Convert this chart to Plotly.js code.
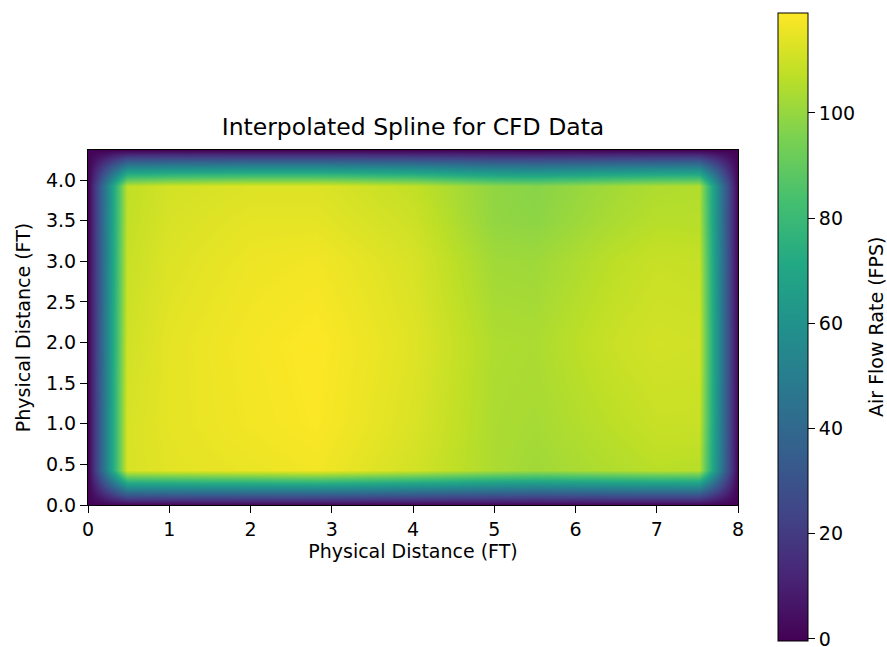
<!DOCTYPE html>
<html>
<head>
<meta charset="utf-8">
<script src="https://cdn.plot.ly/plotly-3.0.1.min.js"></script>
<style>html,body{margin:0;padding:0;background:#fff;}#chart{width:887px;height:647px;}</style>
</head>
<body>
<div id="chart"></div>
<script>
// grid node positions (FT)
const xNodes = [0, 0.25, 0.48, 1, 2, 2.8, 4, 5, 5.5, 6.5, 7, 7.52, 7.75, 8];
const yNodes = [0, 0.22, 0.43, 1, 2, 3, 3.5, 3.93, 4.15, 4.37];
// air flow rate (FPS) read at each node, one row per y node
const row_y000 = [0, 0, 0, 0, 0, 0, 0, 0, 0, 0, 0, 0, 0, 0];
const row_y022 = [0, 30.3, 58.2, 59.3, 60.1, 60.8, 57.7, 54.1, 53.0, 54.6, 55.4, 55.1, 28.7, 0];
const row_y043 = [0, 58.2, 112, 114, 115.5, 117, 111, 104, 102, 105, 106.5, 106, 55.1, 0];
const row_y100 = [0, 58.2, 112, 114.5, 117, 118.5, 112.5, 104, 103, 107, 109, 109, 56.7, 0];
const row_y200 = [0, 57.5, 110.5, 114.5, 117.5, 119, 113.5, 104.5, 104, 109.5, 111, 110.5, 57.5, 0];
const row_y300 = [0, 56.7, 109, 113, 116, 117, 112, 102, 101.5, 107, 109, 108.5, 56.4, 0];
const row_y350 = [0, 56.2, 108, 112, 114.5, 114.5, 110, 99.5, 98.5, 104, 106, 106, 55.1, 0];
const row_y393 = [0, 55.9, 107.5, 111, 113, 113, 108, 99, 97.5, 102.5, 104.5, 105, 54.6, 0];
const row_y415 = [0, 29.1, 55.9, 57.7, 58.8, 58.8, 56.2, 51.5, 50.7, 53.3, 54.3, 54.6, 28.4, 0];
const row_y437 = [0, 0, 0, 0, 0, 0, 0, 0, 0, 0, 0, 0, 0, 0];
const xTicks = [0, 1, 2, 3, 4, 5, 6, 7, 8];
const yTicks = [0, 0.5, 1, 1.5, 2, 2.5, 3, 3.5, 4];
const cbTicks = [0, 20, 40, 60, 80, 100];

const z = [row_y000, row_y022, row_y043, row_y100, row_y200, row_y300, row_y350, row_y393, row_y415, row_y437];

const viridis = [
  [0.0, '#440154'], [0.1, '#482475'], [0.2, '#414487'], [0.3, '#355f8d'],
  [0.4, '#2a788e'], [0.5, '#21918c'], [0.6, '#22a884'], [0.7, '#44bf70'],
  [0.8, '#7ad151'], [0.9, '#bddf26'], [1.0, '#fde725']
];

const font = {family: 'DejaVu Sans, sans-serif', size: 19, color: '#000'};

const trace = {
  type: 'heatmap',
  x: xNodes, y: yNodes, z: z,
  zsmooth: 'best',
  zmin: -0.4, zmax: 119,
  colorscale: viridis,
  hoverinfo: 'skip',
  colorbar: {
    thickness: 30, thicknessmode: 'pixels',
    len: 628, lenmode: 'pixels',
    x: 1.0615, xanchor: 'left', xpad: 0,
    y: 1.386, yanchor: 'top', ypad: 0,
    outlinewidth: 1, outlinecolor: '#000', borderwidth: 0,
    ticks: 'outside', ticklen: 7, tickcolor: '#000',
    tickvals: cbTicks, ticktext: cbTicks.map(String),
    ticklabeloverflow: 'allow',
    tickfont: font
  }
};

const layout = {
  width: 887, height: 647,
  margin: {l: 88, r: 149, t: 150, b: 142},
  paper_bgcolor: '#fff', plot_bgcolor: '#fff',
  font: font,
  title: {text: 'Interpolated Spline for CFD Data', x: 0.4656, xanchor: 'center',
          y: 0.792, yanchor: 'bottom', font: {family: font.family, size: 23.5, color: '#000'}},
  xaxis: {
    range: [0, 8], tickvals: xTicks, ticktext: xTicks.map(String),
    ticks: 'outside', ticklen: 7, tickcolor: '#000',
    showline: true, mirror: true, linecolor: '#000', linewidth: 1,
    showgrid: false, zeroline: false, tickfont: font,
    title: {text: 'Physical Distance (FT)', font: font, standoff: 5}
  },
  yaxis: {
    range: [0, 4.37], tickvals: yTicks, ticktext: yTicks.map(v => v.toFixed(1)),
    ticks: 'outside', ticklen: 7, tickcolor: '#000',
    showline: true, mirror: true, linecolor: '#000', linewidth: 1,
    showgrid: false, zeroline: false, tickfont: font,
    title: {text: 'Physical Distance (FT)', font: font, standoff: 10}
  },
  annotations: [{
    text: 'Air Flow Rate (FPS)', textangle: -90, showarrow: false,
    xref: 'paper', yref: 'paper', x: 1.2123, y: 0.5014,
    xanchor: 'center', yanchor: 'middle', font: font
  }]
};

Plotly.newPlot('chart', [trace], layout, {staticPlot: true, displayModeBar: false});
</script>
</body>
</html>
